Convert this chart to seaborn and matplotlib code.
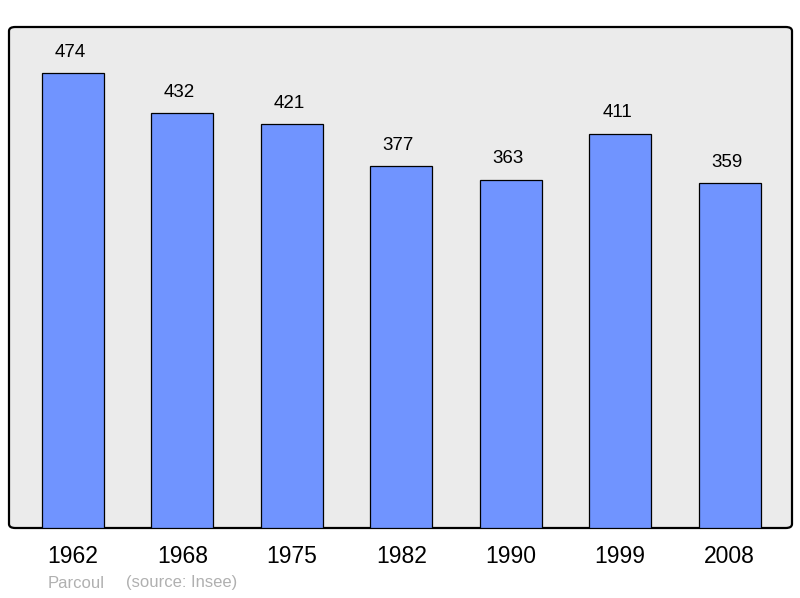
import matplotlib
matplotlib.use("Agg")
import matplotlib.pyplot as plt
import seaborn as sns
import pandas as pd
from matplotlib.patches import FancyBboxPatch

years = ["1962", "1968", "1975", "1982", "1990", "1999", "2008"]
population = [474, 432, 421, 377, 363, 411, 359]
commune = "Parcoul"
source = "(source: Insee)"

sns.set_theme(style="white")
plt.rcParams['font.family'] = ['Liberation Sans', 'DejaVu Sans']

df = pd.DataFrame({"year": years, "pop": population})

fig = plt.figure(figsize=(8, 5.98), dpi=100)
ax = fig.add_axes([9/800, 1 - 528/598, (792 - 9)/800, (528 - 27)/598])
ax.set_facecolor("none")

# rounded background frame
bg = FancyBboxPatch((0, 0), 1, 1, boxstyle="round,pad=0,rounding_size=0.008",
                    transform=ax.transAxes, facecolor="#ebebeb", edgecolor="black",
                    linewidth=1.6, zorder=0, clip_on=False)
ax.add_patch(bg)

sns.barplot(data=df, x="year", y="pop", color="#7094ff", width=0.566,
            edgecolor="black", linewidth=0.9, saturation=1, ax=ax, zorder=2)

for p in ax.patches:
    if isinstance(p, FancyBboxPatch):
        continue
    p.set_facecolor("#7094ff")

ax.set_xlim(-0.584, 6.57)
ax.set_ylim(0, 522)
for s in ax.spines.values():
    s.set_visible(False)
ax.set_yticks([])
ax.set_xlabel("")
ax.set_ylabel("")
ax.tick_params(axis="x", length=0, pad=12, labelsize=16.5, labelcolor="black")

for i, v in enumerate(population):
    ax.annotate(str(v), xy=(i, v), xytext=(-2, 15), textcoords="offset points",
                ha="center", va="center", fontsize=13.5, color="black")

fig.text(48/800, 1 - 583/598, commune, fontsize=12, color="#b0b0b0", ha="left", va="center")
fig.text(126/800, 1 - 583/598, source, fontsize=12, color="#b0b0b0", ha="left", va="center")

fig.savefig("out.png", dpi=100, facecolor="white")
